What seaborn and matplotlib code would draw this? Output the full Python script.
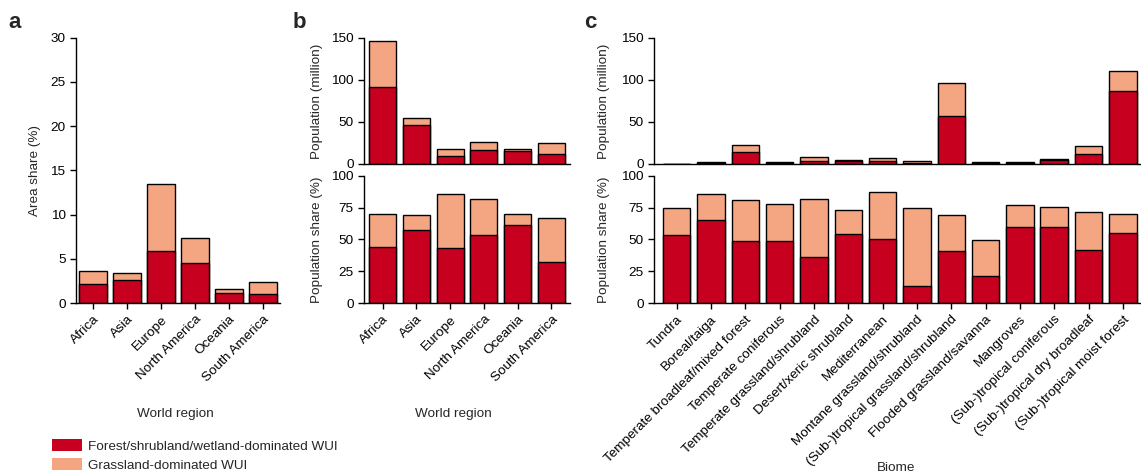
import matplotlib
matplotlib.use("Agg")
import matplotlib.pyplot as plt
from matplotlib.patches import Patch
import seaborn as sns
import pandas as pd

# ---------------- data ----------------
regions = ["Africa", "Asia", "Europe", "North America", "Oceania", "South America"]
area_forest = [2.1, 2.6, 5.9, 4.5, 1.1, 1.0]
area_total = [3.6, 3.35, 13.5, 7.3, 1.55, 2.35]
pop_forest = [92, 46, 9, 17, 15, 12]
pop_total = [146, 55, 18, 26, 17.5, 25]
popshare_forest = [44, 57, 43, 53.5, 61, 32]
popshare_total = [70, 69, 86, 82, 70, 67]

biomes = ["Tundra", "Boreal/taiga", "Temperate broadleaf/mixed forest",
          "Temperate coniferous", "Temperate grassland/shrubland",
          "Desert/xeric shrubland", "Mediterranean", "Montane grassland/shrubland",
          "(Sub-)tropical grassland/shrubland", "Flooded grassland/savanna",
          "Mangroves", "(Sub-)tropical coniferous", "(Sub-)tropical dry broadleaf",
          "(Sub-)tropical moist forest"]
bpop_forest = [0.3, 1.5, 14, 1.5, 3.5, 3.5, 3.5, 1.5, 57, 1.2, 1.2, 4.5, 12, 87]
bpop_total = [0.5, 2, 22.5, 2, 8.5, 4.5, 7, 3, 96.5, 2, 2, 6, 21, 111]
bshare_forest = [53.5, 65, 49, 48.5, 36.5, 54.5, 50, 13, 41, 21, 60, 60, 41.5, 55]
bshare_total = [75, 85.5, 81, 78, 82, 73, 87.5, 74.5, 69, 49.5, 77, 75.5, 71.5, 70]

legend_labels = ["Forest/shrubland/wetland-dominated WUI", "Grassland-dominated WUI"]

RED = "#C8001F"
SALMON = "#F4A683"
FS = 9.7

sns.set_style("ticks")
plt.rcParams["font.family"] = ["Liberation Sans", "DejaVu Sans"]
plt.rcParams["font.size"] = FS
plt.rcParams["axes.linewidth"] = 1.0
plt.rcParams["xtick.major.width"] = 1.0
plt.rcParams["ytick.major.width"] = 1.0
plt.rcParams["xtick.major.size"] = 4
plt.rcParams["ytick.major.size"] = 4
plt.rcParams["xtick.color"] = "black"
plt.rcParams["ytick.color"] = "black"
plt.rcParams["axes.edgecolor"] = "black"

W, H = 1141, 476
fig = plt.figure(figsize=(W / 100, H / 100), dpi=100)


def ax_at(x0, x1, ytop, ybot):
    return fig.add_axes([x0 / W, 1 - ybot / H, (x1 - x0) / W, (ybot - ytop) / H])


def stacked(ax, cats, forest, total, ylim, yticks, ylabel, xlim, show_x=True):
    df = pd.DataFrame({"cat": cats, "forest": forest, "total": total})
    sns.barplot(data=df, x="cat", y="total", order=cats, color=SALMON, width=0.8,
                edgecolor="black", linewidth=1.0, saturation=1, ax=ax)
    sns.barplot(data=df, x="cat", y="forest", order=cats, color=RED, width=0.8,
                edgecolor="black", linewidth=1.0, saturation=1, ax=ax)
    ax.set_ylim(*ylim)
    ax.set_yticks(yticks)
    ax.set_xlim(*xlim)
    ax.set_ylabel(ylabel, fontsize=FS)
    ax.set_xlabel("")
    sns.despine(ax=ax)
    ax.tick_params(axis="both", labelsize=FS, direction="out")
    ax.set_xticks(range(len(cats)))
    if show_x:
        ax.set_xticklabels(cats, rotation=45, ha="right", rotation_mode="anchor")
    else:
        ax.tick_params(axis="x", length=0, labelbottom=False)


# panel a
axa = ax_at(76, 280, 37.7, 303)
stacked(axa, regions, area_forest, area_total, (0, 30), [0, 5, 10, 15, 20, 25, 30],
        "Area share (%)", (-0.5, 5.5))

# panel b
axb1 = ax_at(364, 570, 37.7, 164)
stacked(axb1, regions, pop_forest, pop_total, (0, 150), [0, 50, 100, 150],
        "Population (million)", (-0.55, 5.55), show_x=False)
axb2 = ax_at(364, 570, 175.7, 303)
stacked(axb2, regions, popshare_forest, popshare_total, (0, 100), [0, 25, 50, 75, 100],
        "Population share (%)", (-0.55, 5.55))

# panel c
axc1 = ax_at(654, 1140, 37.7, 164)
stacked(axc1, biomes, bpop_forest, bpop_total, (0, 150), [0, 50, 100, 150],
        "Population (million)", (-0.66, 13.5), show_x=False)
axc2 = ax_at(654, 1140, 175.7, 303)
stacked(axc2, biomes, bshare_forest, bshare_total, (0, 100), [0, 25, 50, 75, 100],
        "Population share (%)", (-0.66, 13.5))

axa.yaxis.set_label_coords(-0.17, 0.5)
for ax in (axb1, axb2):
    ax.yaxis.set_label_coords(-0.2, 0.5)
for ax in (axc1, axc2):
    ax.yaxis.set_label_coords(-0.09, 0.5)

# panel letters
fig.text(8 / W, 1 - 22 / H, "a", fontsize=16, fontweight="bold", va="center")
fig.text(293 / W, 1 - 22 / H, "b", fontsize=16, fontweight="bold", va="center")
fig.text(584 / W, 1 - 22 / H, "c", fontsize=16, fontweight="bold", va="center")

# shared x labels
fig.text(175 / W, 1 - 414 / H, "World region", fontsize=FS, ha="center", va="center")
fig.text(453 / W, 1 - 414 / H, "World region", fontsize=FS, ha="center", va="center")
fig.text(896 / W, 1 - 468 / H, "Biome", fontsize=FS, ha="center", va="center")

handles = [Patch(facecolor=RED, edgecolor="none"), Patch(facecolor=SALMON, edgecolor="none")]
fig.legend(handles, legend_labels, loc="upper left", bbox_to_anchor=(52 / W, 1 - 439 / H),
           frameon=False, fontsize=FS, handlelength=2.25, handleheight=0.97,
           handletextpad=0.45, labelspacing=0.42, borderpad=0, borderaxespad=0)

fig.savefig("out.png", dpi=100)
